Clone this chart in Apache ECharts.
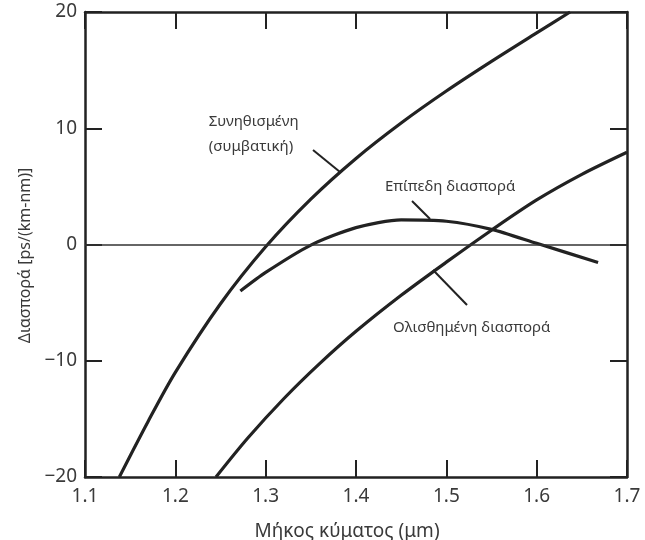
<!DOCTYPE html>
<html>
<head>
<meta charset="utf-8">
<script src="https://cdn.jsdelivr.net/npm/echarts@6/dist/echarts.min.js"></script>
<style>html,body{margin:0;padding:0;background:#fff;}#c{width:645px;height:540px;}</style>
</head>
<body>
<div id="c"></div>
<script>
// Data (wavelength in µm, dispersion in ps/(km·nm))
const conventionalX = [1.138, 1.17, 1.20, 1.25, 1.30, 1.35, 1.40, 1.45, 1.50, 1.55, 1.60, 1.637];
const conventionalY = [-20, -15.2, -11.0, -5.1, -0.2, 3.9, 7.4, 10.45, 13.2, 15.75, 18.2, 20];
const flatX = [1.272, 1.30, 1.35, 1.40, 1.45, 1.50, 1.55, 1.60, 1.668];
const flatY = [-4.0, -2.4, -0.05, 1.45, 2.12, 2.0, 1.3, 0.1, -1.55];
const shiftedX = [1.245, 1.28, 1.32, 1.36, 1.40, 1.45, 1.50, 1.55, 1.60, 1.65, 1.70];
const shiftedY = [-20, -16.67, -13.27, -10.23, -7.47, -4.37, -1.52, 1.23, 3.83, 6.03, 7.93];
const xTicks = [1.1, 1.2, 1.3, 1.4, 1.5, 1.6, 1.7];
const yTicks = [-20, -10, 0, 10, 20];
const xTitle = 'Μήκος κύματος (μm)';
const yTitle = 'Διασπορά [ps/(km-nm)]';
const labelConventional = 'Συνηθισμένη\n(συμβατική)';
const labelFlat = 'Επίπεδη διασπορά';
const labelShifted = 'Ολισθημένη διασπορά';
// annotation anchors (data units)
const annConventional = {text: [1.237, 9.46], leader: [[1.3524, 8.13], [1.3823, 6.24]]};
const annFlat = {text: [1.432, 4.95], leader: [[1.462, 3.74], [1.482, 2.19]]};
const annShifted = {text: [1.441, -7.18], leader: [[1.4853, -2.19], [1.5229, -5.2]]};

const zip = (xs, ys) => xs.map((x, i) => [x, ys[i]]);
const FONT = 'Noto Sans';
const INK = '#222';
const TXT = '#3a3a3a';

function annotation(a, txt, lh) {
  return {
    markPoint: {
      silent: true, symbol: 'circle', symbolSize: 0,
      data: [{coord: a.text, value: 0}],
      label: {show: true, position: 'right', distance: 0, formatter: txt,
        color: TXT, fontFamily: FONT, fontSize: 15, lineHeight: lh || 25, align: 'left'}
    },
    markLine: {
      silent: true, symbol: ['none', 'none'], label: {show: false},
      lineStyle: {color: INK, width: 2, type: 'solid'},
      data: [[{coord: a.leader[0]}, {coord: a.leader[1]}]]
    }
  };
}

const chart = echarts.init(document.getElementById('c'), null, {renderer: 'canvas'});
const axisCommon = {
  type: 'value', min: 1.1, max: 1.7, interval: 0.1,
  axisLine: {show: true, onZero: false, lineStyle: {color: INK, width: 2.5}},
  axisTick: {show: true, inside: true, length: 17, lineStyle: {color: INK, width: 2}},
  splitLine: {show: false}
};
const yCommon = {
  type: 'value', min: -20, max: 20, interval: 10,
  axisLine: {show: true, onZero: false, lineStyle: {color: INK, width: 2.5}},
  axisTick: {show: true, inside: true, length: 17, lineStyle: {color: INK, width: 2}},
  splitLine: {show: false}
};

const lineStyle = {color: INK, width: 3.2};
const a1 = annotation(annConventional, labelConventional, 25);
const a2 = annotation(annFlat, labelFlat);
const a3 = annotation(annShifted, labelShifted);

chart.setOption({
  animation: false,
  backgroundColor: '#fff',
  grid: {left: 85, right: 18, top: 12, bottom: 63, containLabel: false, outerBoundsMode: 'none'},
  xAxis: [
    Object.assign({}, axisCommon, {
      position: 'bottom',
      name: xTitle, nameLocation: 'middle', nameGap: 45,
      nameTextStyle: {color: TXT, fontFamily: FONT, fontSize: 19, padding: [0, 18, 0, 0]},
      axisLabel: {show: true, color: TXT, fontFamily: FONT, fontSize: 19, margin: 10,
        formatter: v => { const t = xTicks.find(k => Math.abs(k - v) < 1e-6); return t === undefined ? '' : t.toFixed(1); }}
    }),
    Object.assign({}, axisCommon, {position: 'top', axisLabel: {show: false}})
  ],
  yAxis: [
    Object.assign({}, yCommon, {
      position: 'left',
      name: yTitle, nameLocation: 'middle', nameGap: 49, nameRotate: 90,
      nameTextStyle: {color: TXT, fontFamily: FONT, fontSize: 16, padding: [0, 22, 0, 0]},
      axisLabel: {show: true, color: TXT, fontFamily: FONT, fontSize: 19, margin: 8,
        formatter: v => { const t = yTicks.find(k => Math.abs(k - v) < 1e-6); return t === undefined ? '' : String(t).replace('-', '\u2212'); }}
    }),
    Object.assign({}, yCommon, {position: 'right', axisLabel: {show: false}})
  ],
  series: [
    Object.assign({
      name: 'conventional', type: 'line', data: zip(conventionalX, conventionalY),
      smooth: 0.3, showSymbol: false, lineStyle: lineStyle, clip: true
    }, a1, {
      markLine: {
        silent: true, symbol: ['none', 'none'], label: {show: false},
        data: [
          [{coord: annConventional.leader[0], lineStyle: {color: INK, width: 2, type: 'solid'}}, {coord: annConventional.leader[1]}],
          {yAxis: 0, lineStyle: {color: '#333', width: 1.6, type: 'solid'}}
        ]
      }
    }),
    Object.assign({
      name: 'flat', type: 'line', data: zip(flatX, flatY),
      smooth: 0.25, showSymbol: false, lineStyle: lineStyle
    }, a2),
    Object.assign({
      name: 'shifted', type: 'line', data: zip(shiftedX, shiftedY),
      smooth: 0.3, showSymbol: false, lineStyle: lineStyle
    }, a3)
  ]
});
</script>
</body>
</html>
